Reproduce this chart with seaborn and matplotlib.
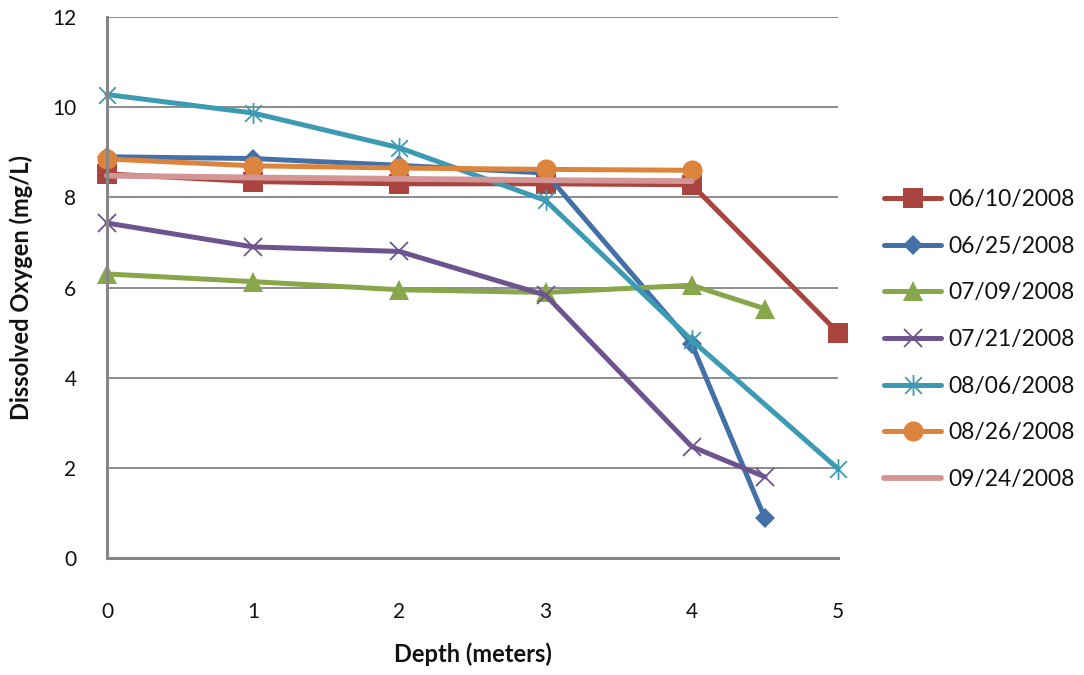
import numpy as np
import pandas as pd
import matplotlib
matplotlib.use("Agg")
import matplotlib.pyplot as plt
from matplotlib.path import Path
import seaborn as sns

# ---------------- data ----------------
series_names = ["06/10/2008", "06/25/2008", "07/09/2008", "07/21/2008",
                "08/06/2008", "08/26/2008", "09/24/2008"]

depth_0610 = [0, 1, 2, 3, 4, 5]
do_0610 = [8.52, 8.35, 8.30, 8.30, 8.28, 5.00]

depth_0625 = [0, 1, 2, 3, 4, 4.5]
do_0625 = [8.90, 8.86, 8.71, 8.54, 4.75, 0.88]

depth_0709 = [0, 1, 2, 3, 4, 4.5]
do_0709 = [6.30, 6.13, 5.95, 5.89, 6.05, 5.53]

depth_0721 = [0, 1, 2, 3, 4, 4.5]
do_0721 = [7.43, 6.90, 6.80, 5.83, 2.47, 1.80]

depth_0806 = [0, 1, 2, 3, 4, 5]
do_0806 = [10.28, 9.87, 9.10, 7.93, 4.83, 1.98]

depth_0826 = [0, 1, 2, 3, 4]
do_0826 = [8.85, 8.70, 8.65, 8.62, 8.60]

depth_0924 = [0, 1, 2, 3, 4]
do_0924 = [8.48, 8.44, 8.41, 8.38, 8.36]

x_ticks = [0, 1, 2, 3, 4, 5]
y_ticks = [0, 2, 4, 6, 8, 10, 12]

depths = [depth_0610, depth_0625, depth_0709, depth_0721, depth_0806, depth_0826, depth_0924]
values = [do_0610, do_0625, do_0709, do_0721, do_0806, do_0826, do_0924]

# ---------------- style ----------------
sns.set_style("white")
plt.rcParams['font.family'] = ['Lato', 'DejaVu Sans']

colors = ["#A9443F", "#4470A8", "#88A64A", "#6E548E", "#3C9BB3", "#DD843C", "#D39595"]

asterisk = Path([(0, -1), (0, 1), (-0.8, -0.8), (0.8, 0.8), (-0.8, 0.8), (0.8, -0.8)],
                [Path.MOVETO, Path.LINETO, Path.MOVETO, Path.LINETO, Path.MOVETO, Path.LINETO])

marker_styles = [
    dict(marker="s", markersize=14.5, mew=0),
    dict(marker="D", markersize=10.5, mew=0),
    dict(marker="^", markersize=14.5, mew=0),
    dict(marker="x", markersize=13, mew=1.3),
    dict(marker=asterisk, markersize=15, mew=1.3),
    dict(marker="o", markersize=14.5, mew=0),
    dict(marker=None),
]
line_widths = [3.6, 3.6, 3.6, 3.6, 3.6, 3.6, 4.2]

fig = plt.figure(figsize=(10.84, 6.75), dpi=100)
ax = fig.add_axes([107 / 1084, 1 - 558 / 675, (838 - 107) / 1084, (558 - 17) / 675])

handles = []
for name, xs, ys, col, ms, lw in zip(series_names, depths, values, colors, marker_styles, line_widths):
    df = pd.DataFrame({"Depth": xs, "DO": ys})
    kw = dict(ms)
    if kw.get("marker") is None:
        kw.pop("marker")
    sns.lineplot(data=df, x="Depth", y="DO", ax=ax, color=col, lw=lw,
                 markeredgecolor=col, markerfacecolor=col,
                 label=name, clip_on=False, legend=False, estimator=None, sort=False,
                 **kw)
    handles.append(ax.lines[-1])

ax.set_xlim(0, 5)
ax.set_ylim(0, 12)
ax.set_xticks(x_ticks)
ax.set_yticks(y_ticks)
ax.set_xticklabels([str(t) for t in x_ticks])
ax.set_yticklabels([str(t) for t in y_ticks])
ax.tick_params(axis="both", length=0, labelsize=15, colors="#111111")
ax.tick_params(axis="x", pad=32)
ax.tick_params(axis="y", pad=22)

ax.yaxis.grid(True, color="#8C8C8C", lw=1.4)
ax.xaxis.grid(False)
ax.set_axisbelow(True)
for s in ["top", "right"]:
    ax.spines[s].set_visible(False)
for s in ["left", "bottom"]:
    ax.spines[s].set_color("#868686")
    ax.spines[s].set_linewidth(2.2)

ax.set_xlabel("Depth (meters)", fontsize=17, fontweight="bold", color="#111111")
ax.set_ylabel("Dissolved Oxygen (mg/L)", fontsize=17, fontweight="bold", color="#111111",
              va="center", ha="center")
ax.xaxis.set_label_coords(0.5, -0.178)
ax.xaxis.label.set_va("center")
ax.yaxis.set_label_coords(-0.117, 0.5)

leg = fig.legend(handles=handles, labels=series_names, loc="upper left",
                 bbox_to_anchor=(884 / 1084, 1 - 189 / 675), frameon=False,
                 fontsize=16.5, handlelength=2.5, handletextpad=0.3,
                 labelspacing=1.12, borderpad=0, borderaxespad=0)
for t in leg.get_texts():
    t.set_color("#111111")

fig.savefig("out.png", dpi=100)
